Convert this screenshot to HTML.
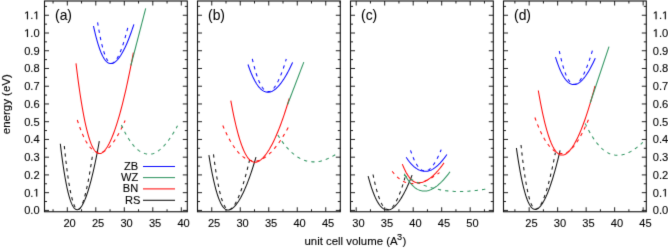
<!DOCTYPE html>
<html><head><meta charset="utf-8"><style>
html,body{margin:0;padding:0;background:#fff;width:668px;height:249px;overflow:hidden;}
svg{display:block;font-family:"Liberation Sans",sans-serif;will-change:transform;}
text{stroke:#000;stroke-width:0.1px;}
</style></head><body>
<svg width="668" height="249" viewBox="0 0 668 249" font-family="Liberation Sans, sans-serif" font-size="11.1" fill="#000">
<rect width="668" height="249" fill="#fff"/>
<filter id="bl" x="0" y="0" width="1" height="1" color-interpolation-filters="sRGB"><feConvolveMatrix order="3" kernelMatrix="0.0100 0.0800 0.0100 0.0800 0.6400 0.0800 0.0100 0.0800 0.0100" edgeMode="duplicate"/></filter><g filter="url(#bl)">
<rect width="668" height="249" fill="#fff"/>
<clipPath id="c0"><rect x="44.5" y="1.0" width="142.8" height="210.75"/></clipPath>
<g clip-path="url(#c0)" stroke-linecap="butt" stroke-linejoin="round">
<path d="M64.30,146.00 L64.65,149.43 L65.00,152.77 L65.35,155.99 L65.70,159.12 L66.05,162.14 L66.40,165.06 L66.75,167.88 L67.10,170.60 L67.45,173.21 L67.80,175.73 L68.15,178.15 L68.50,180.47 L68.85,182.70 L69.20,184.82 L69.55,186.86 L69.90,188.79 L70.25,190.63 L70.60,192.38 L70.95,194.04 L71.30,195.60 L71.65,197.07 L72.00,198.46 L72.35,199.75 L72.70,200.95 L73.05,202.07 L73.40,203.10 L73.75,204.05 L74.10,204.92 L74.45,205.70 L74.80,206.40 L75.15,207.02 L75.50,207.56 L75.85,208.03 L76.20,208.42 L76.55,208.75 L76.90,209.00 L77.25,209.19 L77.60,209.31 L77.95,209.38 L78.30,209.40 L78.66,209.33 L79.03,209.14 L79.39,208.86 L79.76,208.50 L80.12,208.05 L80.49,207.53 L80.86,206.93 L81.22,206.26 L81.58,205.52 L81.95,204.71 L82.31,203.83 L82.68,202.88 L83.05,201.88 L83.41,200.80 L83.78,199.66 L84.14,198.46 L84.50,197.20 L84.87,195.88 L85.23,194.50 L85.60,193.06 L85.97,191.56 L86.33,190.00 L86.70,188.39 L87.06,186.71 L87.42,184.98 L87.79,183.20 L88.16,181.35 L88.52,179.46 L88.89,177.51 L89.25,175.50 L89.62,173.44 L89.98,171.32 L90.34,169.15 L90.71,166.93 L91.08,164.66 L91.44,162.33 L91.81,159.95 L92.17,157.52 L92.54,155.03 L92.90,152.50" stroke="#111" stroke-width="1.05" fill="none" stroke-dasharray="3.3 4.1"/>
<path d="M60.30,143.80 L60.73,147.37 L61.16,150.83 L61.58,154.19 L62.01,157.43 L62.44,160.57 L62.86,163.61 L63.29,166.54 L63.72,169.36 L64.15,172.09 L64.58,174.70 L65.00,177.22 L65.43,179.63 L65.86,181.94 L66.28,184.16 L66.71,186.27 L67.14,188.28 L67.57,190.19 L68.00,192.01 L68.42,193.73 L68.85,195.36 L69.28,196.89 L69.70,198.32 L70.13,199.67 L70.56,200.92 L70.99,202.08 L71.42,203.16 L71.84,204.14 L72.27,205.04 L72.70,205.85 L73.12,206.58 L73.55,207.22 L73.98,207.79 L74.41,208.28 L74.84,208.69 L75.26,209.02 L75.69,209.28 L76.12,209.48 L76.55,209.61 L76.97,209.68 L77.40,209.70 L77.95,209.61 L78.50,209.39 L79.04,209.05 L79.59,208.61 L80.14,208.08 L80.69,207.45 L81.23,206.73 L81.78,205.92 L82.33,205.03 L82.88,204.05 L83.42,202.99 L83.97,201.86 L84.52,200.64 L85.06,199.35 L85.61,197.98 L86.16,196.54 L86.71,195.02 L87.25,193.43 L87.80,191.76 L88.35,190.03 L88.90,188.22 L89.44,186.35 L89.99,184.40 L90.54,182.39 L91.09,180.30 L91.64,178.15 L92.18,175.94 L92.73,173.65 L93.28,171.30 L93.83,168.89 L94.37,166.41 L94.92,163.86 L95.47,161.25 L96.02,158.57 L96.56,155.84 L97.11,153.03 L97.66,150.17 L98.20,147.24 L98.75,144.25 L99.30,141.20" stroke="#111" stroke-width="1.05" fill="none"/>
<path d="M77.30,120.00 L77.87,121.76 L78.44,123.47 L79.00,125.12 L79.57,126.72 L80.14,128.27 L80.70,129.77 L81.27,131.21 L81.84,132.61 L82.41,133.95 L82.97,135.24 L83.54,136.48 L84.11,137.67 L84.68,138.81 L85.25,139.90 L85.81,140.94 L86.38,141.94 L86.95,142.88 L87.52,143.78 L88.08,144.63 L88.65,145.43 L89.22,146.18 L89.78,146.89 L90.35,147.55 L90.92,148.17 L91.49,148.74 L92.06,149.27 L92.62,149.76 L93.19,150.20 L93.76,150.60 L94.33,150.96 L94.89,151.28 L95.46,151.56 L96.03,151.80 L96.59,152.00 L97.16,152.16 L97.73,152.29 L98.30,152.39 L98.86,152.46 L99.43,152.49 L100.00,152.50 L100.63,152.46 L101.25,152.35 L101.88,152.20 L102.51,151.99 L103.14,151.74 L103.77,151.45 L104.39,151.11 L105.02,150.73 L105.65,150.32 L106.28,149.86 L106.90,149.37 L107.53,148.84 L108.16,148.27 L108.78,147.66 L109.41,147.02 L110.04,146.35 L110.67,145.64 L111.30,144.90 L111.92,144.12 L112.55,143.31 L113.18,142.47 L113.80,141.59 L114.43,140.68 L115.06,139.74 L115.69,138.77 L116.31,137.76 L116.94,136.73 L117.57,135.66 L118.20,134.56 L118.82,133.43 L119.45,132.27 L120.08,131.09 L120.71,129.87 L121.33,128.62 L121.96,127.34 L122.59,126.03 L123.22,124.69 L123.84,123.32 L124.47,121.93 L125.10,120.50" stroke="#ff0a0a" stroke-width="1.05" fill="none" stroke-dasharray="3.3 4.1"/>
<path d="M76.00,63.40 L76.59,68.29 L77.19,73.03 L77.78,77.62 L78.38,82.06 L78.97,86.36 L79.57,90.51 L80.16,94.52 L80.76,98.39 L81.36,102.12 L81.95,105.70 L82.55,109.14 L83.14,112.45 L83.73,115.61 L84.33,118.64 L84.92,121.53 L85.52,124.28 L86.11,126.90 L86.71,129.39 L87.30,131.74 L87.90,133.97 L88.50,136.06 L89.09,138.03 L89.69,139.87 L90.28,141.58 L90.88,143.18 L91.47,144.64 L92.06,145.99 L92.66,147.22 L93.25,148.33 L93.85,149.33 L94.44,150.21 L95.04,150.98 L95.63,151.65 L96.23,152.21 L96.82,152.67 L97.42,153.03 L98.02,153.30 L98.61,153.48 L99.20,153.57 L99.80,153.60 L100.64,153.47 L101.48,153.14 L102.32,152.65 L103.16,152.00 L104.00,151.21 L104.84,150.28 L105.68,149.22 L106.52,148.03 L107.36,146.71 L108.20,145.27 L109.04,143.71 L109.88,142.04 L110.72,140.24 L111.56,138.34 L112.40,136.32 L113.24,134.19 L114.08,131.95 L114.92,129.61 L115.76,127.15 L116.60,124.60 L117.44,121.93 L118.28,119.17 L119.12,116.30 L119.96,113.33 L120.80,110.26 L121.64,107.09 L122.48,103.82 L123.32,100.45 L124.16,96.99 L125.00,93.42 L125.84,89.76 L126.68,86.01 L127.52,82.16 L128.36,78.22 L129.20,74.18 L130.04,70.05 L130.88,65.82 L131.72,61.51 L132.56,57.10 L133.40,52.60" stroke="#ff0a0a" stroke-width="1.05" fill="none"/>
<path d="M121.40,125.00 L122.12,126.58 L122.83,128.12 L123.55,129.60 L124.26,131.04 L124.98,132.43 L125.69,133.78 L126.41,135.08 L127.12,136.33 L127.84,137.53 L128.55,138.69 L129.27,139.81 L129.98,140.88 L130.69,141.90 L131.41,142.88 L132.12,143.82 L132.84,144.71 L133.56,145.56 L134.27,146.36 L134.99,147.12 L135.70,147.84 L136.41,148.52 L137.13,149.16 L137.84,149.76 L138.56,150.31 L139.28,150.83 L139.99,151.30 L140.71,151.74 L141.42,152.13 L142.13,152.49 L142.85,152.82 L143.56,153.10 L144.28,153.35 L145.00,153.57 L145.71,153.75 L146.43,153.90 L147.14,154.02 L147.85,154.10 L148.57,154.16 L149.28,154.19 L150.00,154.20 L150.69,154.16 L151.38,154.07 L152.06,153.93 L152.75,153.75 L153.44,153.53 L154.12,153.27 L154.81,152.97 L155.50,152.63 L156.19,152.26 L156.88,151.86 L157.56,151.42 L158.25,150.95 L158.94,150.44 L159.62,149.91 L160.31,149.34 L161.00,148.74 L161.69,148.11 L162.38,147.45 L163.06,146.76 L163.75,146.04 L164.44,145.30 L165.12,144.52 L165.81,143.71 L166.50,142.88 L167.19,142.01 L167.88,141.12 L168.56,140.20 L169.25,139.26 L169.94,138.28 L170.62,137.28 L171.31,136.25 L172.00,135.19 L172.69,134.11 L173.38,133.00 L174.06,131.87 L174.75,130.71 L175.44,129.52 L176.12,128.30 L176.81,127.07 L177.50,125.80" stroke="#2f9460" stroke-width="1.05" fill="none" stroke-dasharray="3.3 4.1"/>
<path d="M130.90,65.50 L145.70,8.40" stroke="#2f9460" stroke-width="1.05" fill="none"/>
<path d="M97.60,22.30 L97.95,24.52 L98.31,26.66 L98.66,28.75 L99.02,30.76 L99.38,32.71 L99.73,34.59 L100.08,36.41 L100.44,38.17 L100.80,39.86 L101.15,41.48 L101.50,43.04 L101.86,44.54 L102.21,45.97 L102.57,47.35 L102.92,48.66 L103.28,49.91 L103.63,51.09 L103.99,52.22 L104.34,53.29 L104.70,54.30 L105.05,55.25 L105.41,56.14 L105.77,56.97 L106.12,57.75 L106.47,58.47 L106.83,59.14 L107.19,59.75 L107.54,60.31 L107.89,60.81 L108.25,61.26 L108.60,61.66 L108.96,62.01 L109.31,62.32 L109.67,62.57 L110.02,62.78 L110.38,62.94 L110.73,63.06 L111.09,63.14 L111.44,63.19 L111.80,63.20 L112.20,63.15 L112.61,63.04 L113.01,62.86 L113.41,62.63 L113.81,62.35 L114.22,62.02 L114.62,61.64 L115.02,61.22 L115.42,60.75 L115.83,60.24 L116.23,59.69 L116.63,59.09 L117.03,58.45 L117.44,57.77 L117.84,57.06 L118.24,56.30 L118.64,55.51 L119.05,54.67 L119.45,53.80 L119.85,52.89 L120.25,51.94 L120.66,50.96 L121.06,49.94 L121.46,48.89 L121.86,47.79 L122.27,46.67 L122.67,45.51 L123.07,44.31 L123.47,43.08 L123.88,41.81 L124.28,40.51 L124.68,39.18 L125.08,37.81 L125.48,36.41 L125.89,34.97 L126.29,33.50 L126.69,32.00 L127.09,30.47 L127.50,28.90 L127.90,27.30" stroke="#0a0aff" stroke-width="1.05" fill="none" stroke-dasharray="3.3 4.1"/>
<path d="M93.50,26.00 L93.94,28.04 L94.39,30.01 L94.83,31.93 L95.27,33.78 L95.71,35.57 L96.16,37.30 L96.60,38.97 L97.04,40.59 L97.48,42.14 L97.92,43.63 L98.37,45.07 L98.81,46.44 L99.25,47.76 L99.69,49.03 L100.14,50.23 L100.58,51.38 L101.02,52.47 L101.47,53.51 L101.91,54.49 L102.35,55.42 L102.79,56.29 L103.23,57.11 L103.68,57.88 L104.12,58.59 L104.56,59.25 L105.00,59.87 L105.45,60.43 L105.89,60.94 L106.33,61.40 L106.78,61.82 L107.22,62.19 L107.66,62.51 L108.10,62.79 L108.55,63.02 L108.99,63.21 L109.43,63.36 L109.87,63.47 L110.31,63.55 L110.76,63.59 L111.20,63.60 L111.77,63.55 L112.34,63.42 L112.90,63.23 L113.47,62.98 L114.04,62.67 L114.61,62.31 L115.17,61.89 L115.74,61.43 L116.31,60.92 L116.88,60.36 L117.44,59.75 L118.01,59.10 L118.58,58.40 L119.15,57.66 L119.71,56.88 L120.28,56.05 L120.85,55.18 L121.42,54.26 L121.98,53.31 L122.55,52.31 L123.12,51.28 L123.69,50.20 L124.25,49.09 L124.82,47.93 L125.39,46.74 L125.96,45.50 L126.52,44.23 L127.09,42.92 L127.66,41.57 L128.22,40.18 L128.79,38.76 L129.36,37.30 L129.93,35.80 L130.50,34.27 L131.06,32.70 L131.63,31.09 L132.20,29.45 L132.77,27.77 L133.33,26.05 L133.90,24.30" stroke="#0a0aff" stroke-width="1.05" fill="none"/>
</g>
<path d="M53.05,211.75v-2.5M53.05,1.0v2.5M67.30,211.75v-4.5M67.30,1.0v4.5M81.55,211.75v-2.5M81.55,1.0v2.5M95.80,211.75v-4.5M95.80,1.0v4.5M110.05,211.75v-2.5M110.05,1.0v2.5M124.30,211.75v-4.5M124.30,1.0v4.5M138.55,211.75v-2.5M138.55,1.0v2.5M152.80,211.75v-4.5M152.80,1.0v4.5M167.05,211.75v-2.5M167.05,1.0v2.5M181.30,211.75v-4.5M181.30,1.0v4.5M44.5,210.40h4.5M187.3,210.40h-4.5M44.5,201.53h2.5M187.3,201.53h-2.5M44.5,192.66h4.5M187.3,192.66h-4.5M44.5,183.79h2.5M187.3,183.79h-2.5M44.5,174.92h4.5M187.3,174.92h-4.5M44.5,166.05h2.5M187.3,166.05h-2.5M44.5,157.18h4.5M187.3,157.18h-4.5M44.5,148.31h2.5M187.3,148.31h-2.5M44.5,139.44h4.5M187.3,139.44h-4.5M44.5,130.57h2.5M187.3,130.57h-2.5M44.5,121.70h4.5M187.3,121.70h-4.5M44.5,112.83h2.5M187.3,112.83h-2.5M44.5,103.96h4.5M187.3,103.96h-4.5M44.5,95.09h2.5M187.3,95.09h-2.5M44.5,86.22h4.5M187.3,86.22h-4.5M44.5,77.35h2.5M187.3,77.35h-2.5M44.5,68.48h4.5M187.3,68.48h-4.5M44.5,59.61h2.5M187.3,59.61h-2.5M44.5,50.74h4.5M187.3,50.74h-4.5M44.5,41.87h2.5M187.3,41.87h-2.5M44.5,33.00h4.5M187.3,33.00h-4.5M44.5,24.13h2.5M187.3,24.13h-2.5M44.5,15.26h4.5M187.3,15.26h-4.5M44.5,6.39h2.5M187.3,6.39h-2.5" stroke="#222" stroke-width="1" fill="none"/>
<rect x="44.5" y="1.0" width="142.8" height="210.75" fill="none" stroke="#111" stroke-width="1.1"/>
<text x="69.60" y="227" text-anchor="middle">20</text>
<text x="98.10" y="227" text-anchor="middle">25</text>
<text x="126.60" y="227" text-anchor="middle">30</text>
<text x="155.10" y="227" text-anchor="middle">35</text>
<text x="183.60" y="227" text-anchor="middle">40</text>
<text x="55.0" y="19.6" font-size="13.9" style="stroke-width:0.05px">(a)</text>
<clipPath id="c1"><rect x="197.5" y="1.0" width="142.8" height="210.75"/></clipPath>
<g clip-path="url(#c1)" stroke-linecap="butt" stroke-linejoin="round">
<path d="M213.50,154.40 L213.89,157.39 L214.28,160.28 L214.66,163.08 L215.05,165.80 L215.44,168.43 L215.82,170.96 L216.21,173.41 L216.60,175.78 L216.99,178.05 L217.38,180.24 L217.76,182.34 L218.15,184.36 L218.54,186.29 L218.93,188.14 L219.31,189.91 L219.70,191.59 L220.09,193.19 L220.47,194.71 L220.86,196.15 L221.25,197.51 L221.64,198.79 L222.03,199.99 L222.41,201.11 L222.80,202.16 L223.19,203.13 L223.57,204.03 L223.96,204.85 L224.35,205.60 L224.74,206.28 L225.12,206.89 L225.51,207.43 L225.90,207.90 L226.29,208.31 L226.68,208.65 L227.06,208.93 L227.45,209.15 L227.84,209.32 L228.22,209.42 L228.61,209.48 L229.00,209.50 L229.53,209.43 L230.05,209.27 L230.57,209.01 L231.10,208.68 L231.62,208.28 L232.15,207.81 L232.68,207.27 L233.20,206.66 L233.72,205.99 L234.25,205.25 L234.78,204.46 L235.30,203.60 L235.82,202.69 L236.35,201.72 L236.88,200.69 L237.40,199.60 L237.93,198.46 L238.45,197.27 L238.97,196.01 L239.50,194.71 L240.03,193.35 L240.55,191.94 L241.07,190.48 L241.60,188.97 L242.12,187.40 L242.65,185.78 L243.18,184.12 L243.70,182.40 L244.22,180.63 L244.75,178.82 L245.28,176.95 L245.80,175.04 L246.32,173.07 L246.85,171.06 L247.38,169.00 L247.90,166.90 L248.43,164.74 L248.95,162.54 L249.47,160.29 L250.00,158.00" stroke="#111" stroke-width="1.05" fill="none" stroke-dasharray="3.3 4.1"/>
<path d="M208.90,155.20 L209.39,158.17 L209.87,161.05 L210.36,163.84 L210.84,166.54 L211.33,169.15 L211.81,171.67 L212.30,174.11 L212.78,176.46 L213.27,178.72 L213.75,180.90 L214.24,182.99 L214.72,185.00 L215.21,186.92 L215.69,188.76 L216.18,190.51 L216.66,192.19 L217.15,193.78 L217.63,195.29 L218.12,196.72 L218.60,198.07 L219.09,199.35 L219.57,200.54 L220.06,201.66 L220.54,202.70 L221.03,203.67 L221.51,204.56 L222.00,205.38 L222.48,206.12 L222.97,206.80 L223.45,207.40 L223.94,207.94 L224.42,208.41 L224.91,208.82 L225.39,209.16 L225.88,209.44 L226.36,209.65 L226.85,209.82 L227.33,209.92 L227.81,209.98 L228.30,210.00 L228.99,209.93 L229.69,209.76 L230.38,209.50 L231.07,209.16 L231.76,208.75 L232.46,208.26 L233.15,207.70 L233.84,207.08 L234.53,206.39 L235.23,205.64 L235.92,204.82 L236.61,203.94 L237.30,203.00 L238.00,202.01 L238.69,200.95 L239.38,199.83 L240.07,198.66 L240.77,197.43 L241.46,196.15 L242.15,194.81 L242.84,193.41 L243.53,191.97 L244.23,190.46 L244.92,188.91 L245.61,187.30 L246.31,185.64 L247.00,183.93 L247.69,182.16 L248.38,180.35 L249.07,178.48 L249.77,176.57 L250.46,174.60 L251.15,172.58 L251.84,170.52 L252.54,168.40 L253.23,166.24 L253.92,164.03 L254.62,161.77 L255.31,159.46 L256.00,157.10" stroke="#111" stroke-width="1.05" fill="none"/>
<path d="M222.80,125.50 L223.62,127.42 L224.44,129.29 L225.25,131.10 L226.07,132.84 L226.89,134.54 L227.71,136.17 L228.52,137.75 L229.34,139.27 L230.16,140.74 L230.98,142.15 L231.79,143.50 L232.61,144.80 L233.43,146.05 L234.25,147.24 L235.06,148.38 L235.88,149.46 L236.70,150.49 L237.52,151.47 L238.33,152.40 L239.15,153.27 L239.97,154.10 L240.78,154.87 L241.60,155.60 L242.42,156.27 L243.24,156.90 L244.06,157.47 L244.87,158.01 L245.69,158.49 L246.51,158.93 L247.32,159.32 L248.14,159.67 L248.96,159.97 L249.78,160.23 L250.59,160.45 L251.41,160.63 L252.23,160.78 L253.05,160.88 L253.87,160.95 L254.68,160.99 L255.50,161.00 L256.32,160.96 L257.15,160.85 L257.98,160.68 L258.80,160.46 L259.62,160.19 L260.45,159.88 L261.27,159.52 L262.10,159.12 L262.93,158.68 L263.75,158.20 L264.57,157.67 L265.40,157.11 L266.23,156.50 L267.05,155.86 L267.88,155.18 L268.70,154.47 L269.52,153.71 L270.35,152.92 L271.18,152.10 L272.00,151.24 L272.82,150.34 L273.65,149.41 L274.48,148.44 L275.30,147.44 L276.12,146.41 L276.95,145.34 L277.77,144.24 L278.60,143.11 L279.43,141.94 L280.25,140.74 L281.07,139.51 L281.90,138.25 L282.73,136.95 L283.55,135.62 L284.38,134.26 L285.20,132.87 L286.02,131.45 L286.85,130.00 L287.68,128.51 L288.50,127.00" stroke="#ff0a0a" stroke-width="1.05" fill="none" stroke-dasharray="3.3 4.1"/>
<path d="M230.80,100.60 L231.41,103.94 L232.03,107.17 L232.64,110.31 L233.25,113.34 L233.86,116.28 L234.48,119.12 L235.09,121.86 L235.70,124.50 L236.31,127.04 L236.93,129.49 L237.54,131.84 L238.15,134.09 L238.76,136.26 L239.38,138.32 L239.99,140.30 L240.60,142.18 L241.21,143.97 L241.83,145.67 L242.44,147.27 L243.05,148.79 L243.66,150.22 L244.28,151.57 L244.89,152.82 L245.50,153.99 L246.11,155.08 L246.73,156.08 L247.34,157.00 L247.95,157.84 L248.56,158.60 L249.18,159.28 L249.79,159.89 L250.40,160.41 L251.01,160.87 L251.62,161.25 L252.24,161.56 L252.85,161.81 L253.46,161.99 L254.08,162.12 L254.69,162.18 L255.30,162.20 L256.15,162.12 L257.00,161.91 L257.85,161.60 L258.70,161.19 L259.55,160.69 L260.40,160.10 L261.25,159.43 L262.10,158.68 L262.95,157.85 L263.80,156.94 L264.65,155.95 L265.50,154.89 L266.35,153.76 L267.20,152.56 L268.05,151.28 L268.90,149.94 L269.75,148.53 L270.60,147.04 L271.45,145.49 L272.30,143.88 L273.15,142.20 L274.00,140.45 L274.85,138.64 L275.70,136.76 L276.55,134.82 L277.40,132.82 L278.25,130.75 L279.10,128.63 L279.95,126.44 L280.80,124.19 L281.65,121.88 L282.50,119.50 L283.35,117.07 L284.20,114.58 L285.05,112.03 L285.90,109.42 L286.75,106.75 L287.60,104.03 L288.45,101.24 L289.30,98.40" stroke="#ff0a0a" stroke-width="1.05" fill="none"/>
<path d="M277.80,135.00 L278.72,136.46 L279.64,137.87 L280.56,139.24 L281.48,140.57 L282.40,141.85 L283.32,143.09 L284.24,144.28 L285.16,145.44 L286.08,146.55 L287.00,147.61 L287.92,148.64 L288.84,149.63 L289.76,150.57 L290.68,151.47 L291.60,152.33 L292.52,153.16 L293.44,153.94 L294.36,154.68 L295.28,155.38 L296.20,156.05 L297.12,156.67 L298.04,157.26 L298.96,157.81 L299.88,158.32 L300.80,158.79 L301.72,159.23 L302.64,159.63 L303.56,160.00 L304.48,160.33 L305.40,160.63 L306.32,160.89 L307.24,161.12 L308.16,161.32 L309.08,161.49 L310.00,161.62 L310.92,161.73 L311.84,161.81 L312.76,161.86 L313.68,161.89 L314.60,161.90 L315.19,161.89 L315.77,161.86 L316.36,161.82 L316.94,161.76 L317.53,161.69 L318.11,161.60 L318.69,161.51 L319.28,161.40 L319.87,161.29 L320.45,161.16 L321.04,161.02 L321.62,160.87 L322.21,160.71 L322.79,160.54 L323.38,160.36 L323.96,160.17 L324.55,159.97 L325.13,159.76 L325.72,159.54 L326.30,159.32 L326.88,159.08 L327.47,158.83 L328.06,158.58 L328.64,158.31 L329.23,158.04 L329.81,157.76 L330.39,157.46 L330.98,157.16 L331.56,156.86 L332.15,156.54 L332.74,156.21 L333.32,155.88 L333.91,155.53 L334.49,155.18 L335.07,154.82 L335.66,154.45 L336.25,154.08 L336.83,153.69 L337.42,153.30 L338.00,152.90" stroke="#2f9460" stroke-width="1.05" fill="none" stroke-dasharray="3.3 4.1"/>
<path d="M287.60,104.50 L303.80,62.10" stroke="#2f9460" stroke-width="1.05" fill="none"/>
<path d="M252.30,58.90 L252.71,60.67 L253.12,62.39 L253.54,64.05 L253.95,65.67 L254.36,67.22 L254.78,68.73 L255.19,70.18 L255.60,71.59 L256.01,72.94 L256.43,74.23 L256.84,75.48 L257.25,76.68 L257.66,77.83 L258.07,78.92 L258.49,79.97 L258.90,80.97 L259.31,81.92 L259.73,82.82 L260.14,83.68 L260.55,84.48 L260.96,85.24 L261.38,85.96 L261.79,86.62 L262.20,87.24 L262.61,87.82 L263.03,88.35 L263.44,88.84 L263.85,89.29 L264.26,89.69 L264.68,90.05 L265.09,90.37 L265.50,90.65 L265.91,90.89 L266.32,91.10 L266.74,91.26 L267.15,91.39 L267.56,91.49 L267.98,91.56 L268.39,91.59 L268.80,91.60 L269.24,91.56 L269.68,91.45 L270.11,91.29 L270.55,91.08 L270.99,90.83 L271.43,90.53 L271.86,90.19 L272.30,89.80 L272.74,89.38 L273.18,88.91 L273.61,88.41 L274.05,87.87 L274.49,87.29 L274.93,86.67 L275.36,86.02 L275.80,85.33 L276.24,84.61 L276.68,83.86 L277.11,83.06 L277.55,82.24 L277.99,81.38 L278.43,80.49 L278.86,79.56 L279.30,78.60 L279.74,77.61 L280.18,76.59 L280.61,75.53 L281.05,74.44 L281.49,73.33 L281.93,72.18 L282.36,71.00 L282.80,69.78 L283.24,68.54 L283.68,67.27 L284.11,65.97 L284.55,64.63 L284.99,63.27 L285.43,61.88 L285.86,60.45 L286.30,59.00" stroke="#0a0aff" stroke-width="1.05" fill="none" stroke-dasharray="3.3 4.1"/>
<path d="M248.00,64.50 L248.51,66.00 L249.03,67.46 L249.54,68.87 L250.05,70.23 L250.56,71.55 L251.07,72.83 L251.59,74.06 L252.10,75.25 L252.61,76.39 L253.12,77.49 L253.64,78.55 L254.15,79.56 L254.66,80.53 L255.18,81.46 L255.69,82.35 L256.20,83.20 L256.71,84.00 L257.23,84.77 L257.74,85.49 L258.25,86.17 L258.76,86.81 L259.27,87.42 L259.79,87.98 L260.30,88.51 L260.81,89.00 L261.32,89.45 L261.84,89.86 L262.35,90.24 L262.86,90.58 L263.38,90.89 L263.89,91.16 L264.40,91.40 L264.91,91.60 L265.43,91.77 L265.94,91.91 L266.45,92.03 L266.96,92.11 L267.48,92.16 L267.99,92.19 L268.50,92.20 L269.10,92.16 L269.70,92.06 L270.31,91.92 L270.91,91.73 L271.51,91.49 L272.12,91.22 L272.72,90.91 L273.32,90.56 L273.92,90.17 L274.52,89.74 L275.13,89.28 L275.73,88.79 L276.33,88.26 L276.94,87.70 L277.54,87.10 L278.14,86.47 L278.74,85.81 L279.35,85.12 L279.95,84.40 L280.55,83.64 L281.15,82.86 L281.75,82.04 L282.36,81.19 L282.96,80.32 L283.56,79.41 L284.17,78.48 L284.77,77.51 L285.37,76.52 L285.97,75.50 L286.58,74.44 L287.18,73.37 L287.78,72.26 L288.38,71.12 L288.99,69.96 L289.59,68.77 L290.19,67.55 L290.79,66.30 L291.40,65.03 L292.00,63.73 L292.60,62.40" stroke="#0a0aff" stroke-width="1.05" fill="none"/>
</g>
<path d="M197.50,211.75v-2.5M197.50,1.0v2.5M211.75,211.75v-4.5M211.75,1.0v4.5M226.00,211.75v-2.5M226.00,1.0v2.5M240.25,211.75v-4.5M240.25,1.0v4.5M254.50,211.75v-2.5M254.50,1.0v2.5M268.75,211.75v-4.5M268.75,1.0v4.5M283.00,211.75v-2.5M283.00,1.0v2.5M297.25,211.75v-4.5M297.25,1.0v4.5M311.50,211.75v-2.5M311.50,1.0v2.5M325.75,211.75v-4.5M325.75,1.0v4.5M340.00,211.75v-2.5M340.00,1.0v2.5M197.5,210.40h4.5M340.3,210.40h-4.5M197.5,201.53h2.5M340.3,201.53h-2.5M197.5,192.66h4.5M340.3,192.66h-4.5M197.5,183.79h2.5M340.3,183.79h-2.5M197.5,174.92h4.5M340.3,174.92h-4.5M197.5,166.05h2.5M340.3,166.05h-2.5M197.5,157.18h4.5M340.3,157.18h-4.5M197.5,148.31h2.5M340.3,148.31h-2.5M197.5,139.44h4.5M340.3,139.44h-4.5M197.5,130.57h2.5M340.3,130.57h-2.5M197.5,121.70h4.5M340.3,121.70h-4.5M197.5,112.83h2.5M340.3,112.83h-2.5M197.5,103.96h4.5M340.3,103.96h-4.5M197.5,95.09h2.5M340.3,95.09h-2.5M197.5,86.22h4.5M340.3,86.22h-4.5M197.5,77.35h2.5M340.3,77.35h-2.5M197.5,68.48h4.5M340.3,68.48h-4.5M197.5,59.61h2.5M340.3,59.61h-2.5M197.5,50.74h4.5M340.3,50.74h-4.5M197.5,41.87h2.5M340.3,41.87h-2.5M197.5,33.00h4.5M340.3,33.00h-4.5M197.5,24.13h2.5M340.3,24.13h-2.5M197.5,15.26h4.5M340.3,15.26h-4.5M197.5,6.39h2.5M340.3,6.39h-2.5" stroke="#222" stroke-width="1" fill="none"/>
<rect x="197.5" y="1.0" width="142.8" height="210.75" fill="none" stroke="#111" stroke-width="1.1"/>
<text x="214.05" y="227" text-anchor="middle">25</text>
<text x="242.55" y="227" text-anchor="middle">30</text>
<text x="271.05" y="227" text-anchor="middle">35</text>
<text x="299.55" y="227" text-anchor="middle">40</text>
<text x="328.05" y="227" text-anchor="middle">45</text>
<text x="208.0" y="19.6" font-size="13.9" style="stroke-width:0.05px">(b)</text>
<clipPath id="c2"><rect x="350.5" y="1.0" width="142.8" height="210.75"/></clipPath>
<g clip-path="url(#c2)" stroke-linecap="butt" stroke-linejoin="round">
<path d="M373.00,174.50 L373.39,176.40 L373.77,178.23 L374.16,180.02 L374.55,181.74 L374.94,183.41 L375.32,185.02 L375.71,186.58 L376.10,188.08 L376.49,189.52 L376.88,190.91 L377.26,192.25 L377.65,193.53 L378.04,194.76 L378.43,195.93 L378.81,197.05 L379.20,198.12 L379.59,199.14 L379.98,200.11 L380.36,201.02 L380.75,201.88 L381.14,202.70 L381.52,203.46 L381.91,204.17 L382.30,204.84 L382.69,205.45 L383.07,206.02 L383.46,206.55 L383.85,207.02 L384.24,207.46 L384.62,207.84 L385.01,208.19 L385.40,208.49 L385.79,208.74 L386.18,208.96 L386.56,209.14 L386.95,209.28 L387.34,209.38 L387.73,209.45 L388.11,209.49 L388.50,209.50 L388.92,209.46 L389.34,209.35 L389.76,209.19 L390.18,208.98 L390.60,208.72 L391.02,208.41 L391.44,208.07 L391.86,207.68 L392.28,207.25 L392.70,206.78 L393.12,206.27 L393.54,205.72 L393.96,205.14 L394.38,204.51 L394.80,203.85 L395.22,203.16 L395.64,202.43 L396.06,201.66 L396.48,200.86 L396.90,200.02 L397.32,199.15 L397.74,198.25 L398.16,197.31 L398.58,196.34 L399.00,195.34 L399.42,194.30 L399.84,193.23 L400.26,192.13 L400.68,191.00 L401.10,189.84 L401.52,188.64 L401.94,187.42 L402.36,186.16 L402.78,184.87 L403.20,183.55 L403.62,182.20 L404.04,180.82 L404.46,179.41 L404.88,177.97 L405.30,176.50" stroke="#111" stroke-width="1.05" fill="none" stroke-dasharray="3.3 4.1"/>
<path d="M368.10,176.10 L368.60,177.94 L369.09,179.72 L369.59,181.44 L370.08,183.11 L370.58,184.73 L371.07,186.29 L371.56,187.80 L372.06,189.25 L372.56,190.65 L373.05,192.00 L373.55,193.29 L374.04,194.53 L374.54,195.72 L375.03,196.86 L375.52,197.95 L376.02,198.98 L376.51,199.97 L377.01,200.90 L377.50,201.79 L378.00,202.62 L378.50,203.41 L378.99,204.15 L379.49,204.84 L379.98,205.48 L380.48,206.08 L380.97,206.63 L381.46,207.14 L381.96,207.60 L382.45,208.02 L382.95,208.39 L383.44,208.73 L383.94,209.02 L384.44,209.27 L384.93,209.48 L385.42,209.65 L385.92,209.79 L386.41,209.89 L386.91,209.95 L387.40,209.99 L387.90,210.00 L388.50,209.95 L389.11,209.84 L389.71,209.67 L390.32,209.45 L390.92,209.17 L391.53,208.85 L392.13,208.49 L392.74,208.07 L393.34,207.62 L393.95,207.12 L394.56,206.58 L395.16,206.00 L395.76,205.38 L396.37,204.73 L396.98,204.03 L397.58,203.29 L398.19,202.52 L398.79,201.71 L399.39,200.86 L400.00,199.98 L400.61,199.06 L401.21,198.10 L401.81,197.11 L402.42,196.08 L403.02,195.02 L403.63,193.93 L404.24,192.80 L404.84,191.63 L405.44,190.44 L406.05,189.21 L406.66,187.94 L407.26,186.64 L407.87,185.31 L408.47,183.95 L409.08,182.56 L409.68,181.13 L410.29,179.67 L410.89,178.18 L411.50,176.65 L412.10,175.10" stroke="#111" stroke-width="1.05" fill="none"/>
<path d="M392.20,171.30 L392.72,171.97 L393.24,172.61 L393.76,173.24 L394.28,173.84 L394.80,174.43 L395.32,175.00 L395.84,175.54 L396.36,176.07 L396.88,176.58 L397.40,177.07 L397.92,177.54 L398.44,177.99 L398.96,178.42 L399.48,178.83 L400.00,179.23 L400.52,179.60 L401.04,179.96 L401.56,180.30 L402.08,180.62 L402.60,180.92 L403.12,181.21 L403.64,181.48 L404.16,181.73 L404.68,181.96 L405.20,182.18 L405.72,182.38 L406.24,182.56 L406.76,182.73 L407.28,182.88 L407.80,183.02 L408.32,183.14 L408.84,183.24 L409.36,183.33 L409.88,183.41 L410.40,183.47 L410.92,183.52 L411.44,183.56 L411.96,183.58 L412.48,183.60 L413.00,183.60 L413.66,183.59 L414.32,183.55 L414.99,183.50 L415.65,183.43 L416.31,183.34 L416.98,183.24 L417.64,183.12 L418.30,182.99 L418.96,182.85 L419.62,182.69 L420.29,182.52 L420.95,182.34 L421.61,182.15 L422.27,181.94 L422.94,181.72 L423.60,181.49 L424.26,181.24 L424.93,180.99 L425.59,180.72 L426.25,180.44 L426.91,180.15 L427.57,179.85 L428.24,179.54 L428.90,179.21 L429.56,178.88 L430.23,178.53 L430.89,178.18 L431.55,177.81 L432.21,177.43 L432.88,177.05 L433.54,176.65 L434.20,176.24 L434.86,175.82 L435.52,175.39 L436.19,174.95 L436.85,174.50 L437.51,174.04 L438.18,173.57 L438.84,173.09 L439.50,172.60" stroke="#ff0a0a" stroke-width="1.05" fill="none" stroke-dasharray="3.3 4.1"/>
<path d="M402.30,164.10 L402.71,165.12 L403.12,166.11 L403.53,167.06 L403.94,167.99 L404.35,168.89 L404.76,169.75 L405.17,170.59 L405.58,171.39 L405.99,172.17 L406.40,172.92 L406.81,173.63 L407.22,174.32 L407.63,174.98 L408.04,175.61 L408.45,176.22 L408.86,176.79 L409.27,177.34 L409.68,177.85 L410.09,178.34 L410.50,178.81 L410.91,179.25 L411.32,179.65 L411.73,180.04 L412.14,180.40 L412.55,180.73 L412.96,181.03 L413.37,181.31 L413.78,181.57 L414.19,181.80 L414.60,182.01 L415.01,182.19 L415.42,182.35 L415.83,182.49 L416.24,182.61 L416.65,182.71 L417.06,182.78 L417.47,182.84 L417.88,182.87 L418.29,182.89 L418.70,182.90 L419.33,182.87 L419.96,182.81 L420.60,182.71 L421.23,182.58 L421.86,182.43 L422.50,182.24 L423.13,182.03 L423.76,181.80 L424.39,181.54 L425.02,181.25 L425.66,180.94 L426.29,180.61 L426.92,180.26 L427.56,179.88 L428.19,179.48 L428.82,179.06 L429.45,178.61 L430.08,178.15 L430.72,177.66 L431.35,177.16 L431.98,176.63 L432.62,176.08 L433.25,175.51 L433.88,174.93 L434.51,174.32 L435.14,173.69 L435.78,173.04 L436.41,172.38 L437.04,171.69 L437.68,170.98 L438.31,170.26 L438.94,169.52 L439.57,168.75 L440.20,167.97 L440.84,167.17 L441.47,166.36 L442.10,165.52 L442.74,164.66 L443.37,163.79 L444.00,162.90" stroke="#ff0a0a" stroke-width="1.05" fill="none"/>
<path d="M404.00,175.00 L405.40,175.89 L406.80,176.76 L408.20,177.60 L409.60,178.41 L411.00,179.20 L412.40,179.96 L413.80,180.69 L415.20,181.40 L416.60,182.08 L418.00,182.74 L419.40,183.37 L420.80,183.97 L422.20,184.55 L423.60,185.10 L425.00,185.63 L426.40,186.14 L427.80,186.62 L429.20,187.07 L430.60,187.50 L432.00,187.91 L433.40,188.29 L434.80,188.65 L436.20,188.99 L437.60,189.30 L439.00,189.59 L440.40,189.86 L441.80,190.11 L443.20,190.33 L444.60,190.54 L446.00,190.72 L447.40,190.88 L448.80,191.02 L450.20,191.14 L451.60,191.25 L453.00,191.33 L454.40,191.40 L455.80,191.44 L457.20,191.48 L458.60,191.50 L460.00,191.50 L460.66,191.50 L461.32,191.49 L461.99,191.48 L462.65,191.46 L463.31,191.44 L463.98,191.42 L464.64,191.39 L465.30,191.36 L465.96,191.33 L466.62,191.29 L467.29,191.26 L467.95,191.21 L468.61,191.17 L469.27,191.12 L469.94,191.07 L470.60,191.02 L471.26,190.96 L471.93,190.91 L472.59,190.85 L473.25,190.78 L473.91,190.72 L474.57,190.65 L475.24,190.58 L475.90,190.50 L476.56,190.43 L477.23,190.35 L477.89,190.27 L478.55,190.18 L479.21,190.10 L479.88,190.01 L480.54,189.92 L481.20,189.83 L481.86,189.73 L482.52,189.63 L483.19,189.53 L483.85,189.43 L484.51,189.33 L485.18,189.22 L485.84,189.11 L486.50,189.00" stroke="#2f9460" stroke-width="1.05" fill="none" stroke-dasharray="3.3 4.1"/>
<path d="M404.30,173.70 L404.81,174.64 L405.32,175.56 L405.84,176.44 L406.35,177.30 L406.86,178.13 L407.38,178.93 L407.89,179.70 L408.40,180.45 L408.91,181.17 L409.43,181.86 L409.94,182.52 L410.45,183.16 L410.96,183.77 L411.48,184.36 L411.99,184.91 L412.50,185.44 L413.01,185.95 L413.53,186.43 L414.04,186.88 L414.55,187.31 L415.06,187.72 L415.57,188.10 L416.09,188.45 L416.60,188.78 L417.11,189.09 L417.62,189.37 L418.14,189.63 L418.65,189.87 L419.16,190.08 L419.68,190.28 L420.19,190.45 L420.70,190.60 L421.21,190.72 L421.73,190.83 L422.24,190.92 L422.75,190.99 L423.26,191.04 L423.78,191.08 L424.29,191.09 L424.80,191.10 L425.43,191.07 L426.06,191.01 L426.69,190.92 L427.32,190.79 L427.95,190.64 L428.58,190.47 L429.21,190.26 L429.84,190.03 L430.47,189.78 L431.10,189.51 L431.73,189.21 L432.36,188.89 L432.99,188.55 L433.62,188.18 L434.25,187.80 L434.88,187.39 L435.51,186.96 L436.14,186.51 L436.77,186.05 L437.40,185.56 L438.03,185.05 L438.66,184.52 L439.29,183.97 L439.92,183.40 L440.55,182.82 L441.18,182.21 L441.81,181.59 L442.44,180.94 L443.07,180.28 L443.70,179.60 L444.33,178.90 L444.96,178.18 L445.59,177.45 L446.22,176.70 L446.85,175.92 L447.48,175.13 L448.11,174.33 L448.74,173.50 L449.37,172.66 L450.00,171.80" stroke="#2f9460" stroke-width="1.05" fill="none"/>
<path d="M410.50,150.30 L410.88,151.42 L411.25,152.51 L411.63,153.56 L412.01,154.58 L412.39,155.57 L412.76,156.52 L413.14,157.44 L413.52,158.33 L413.90,159.18 L414.27,160.01 L414.65,160.80 L415.03,161.56 L415.41,162.28 L415.79,162.98 L416.16,163.64 L416.54,164.27 L416.92,164.87 L417.30,165.44 L417.67,165.98 L418.05,166.49 L418.43,166.98 L418.81,167.43 L419.18,167.85 L419.56,168.24 L419.94,168.61 L420.31,168.94 L420.69,169.25 L421.07,169.54 L421.45,169.79 L421.83,170.02 L422.20,170.22 L422.58,170.40 L422.96,170.55 L423.34,170.68 L423.71,170.79 L424.09,170.87 L424.47,170.93 L424.85,170.97 L425.22,170.99 L425.60,171.00 L425.99,170.97 L426.38,170.90 L426.77,170.80 L427.16,170.66 L427.55,170.49 L427.94,170.30 L428.33,170.07 L428.72,169.82 L429.11,169.54 L429.50,169.24 L429.89,168.90 L430.28,168.55 L430.67,168.17 L431.06,167.77 L431.45,167.34 L431.84,166.89 L432.23,166.41 L432.62,165.92 L433.01,165.40 L433.40,164.85 L433.79,164.29 L434.18,163.70 L434.57,163.10 L434.96,162.47 L435.35,161.82 L435.74,161.14 L436.13,160.45 L436.52,159.74 L436.91,159.00 L437.30,158.25 L437.69,157.47 L438.08,156.68 L438.47,155.86 L438.86,155.03 L439.25,154.17 L439.64,153.30 L440.03,152.40 L440.42,151.49 L440.81,150.55 L441.20,149.60" stroke="#0a0aff" stroke-width="1.05" fill="none" stroke-dasharray="3.3 4.1"/>
<path d="M406.20,157.30 L406.69,158.06 L407.19,158.79 L407.69,159.51 L408.18,160.20 L408.68,160.86 L409.17,161.51 L409.66,162.13 L410.16,162.73 L410.65,163.31 L411.15,163.87 L411.64,164.40 L412.14,164.91 L412.63,165.40 L413.13,165.87 L413.62,166.32 L414.12,166.75 L414.62,167.16 L415.11,167.54 L415.61,167.91 L416.10,168.25 L416.59,168.58 L417.09,168.88 L417.58,169.17 L418.08,169.44 L418.57,169.68 L419.07,169.91 L419.56,170.12 L420.06,170.31 L420.56,170.48 L421.05,170.64 L421.55,170.77 L422.04,170.89 L422.53,171.00 L423.03,171.08 L423.52,171.16 L424.02,171.21 L424.51,171.25 L425.01,171.28 L425.50,171.30 L426.00,171.30 L426.52,171.28 L427.05,171.22 L427.57,171.14 L428.09,171.03 L428.61,170.90 L429.13,170.75 L429.66,170.57 L430.18,170.37 L430.70,170.15 L431.23,169.91 L431.75,169.66 L432.27,169.38 L432.79,169.08 L433.31,168.76 L433.84,168.43 L434.36,168.07 L434.88,167.70 L435.40,167.31 L435.93,166.90 L436.45,166.48 L436.97,166.03 L437.50,165.57 L438.02,165.10 L438.54,164.60 L439.06,164.09 L439.58,163.56 L440.11,163.02 L440.63,162.46 L441.15,161.88 L441.67,161.29 L442.20,160.68 L442.72,160.06 L443.24,159.42 L443.76,158.76 L444.29,158.09 L444.81,157.40 L445.33,156.70 L445.85,155.98 L446.38,155.25 L446.90,154.50" stroke="#0a0aff" stroke-width="1.05" fill="none"/>
</g>
<path d="M356.20,211.75v-4.5M356.20,1.0v4.5M370.45,211.75v-2.5M370.45,1.0v2.5M384.70,211.75v-4.5M384.70,1.0v4.5M398.95,211.75v-2.5M398.95,1.0v2.5M413.20,211.75v-4.5M413.20,1.0v4.5M427.45,211.75v-2.5M427.45,1.0v2.5M441.70,211.75v-4.5M441.70,1.0v4.5M455.95,211.75v-2.5M455.95,1.0v2.5M470.20,211.75v-4.5M470.20,1.0v4.5M484.45,211.75v-2.5M484.45,1.0v2.5M350.5,210.40h4.5M493.3,210.40h-4.5M350.5,201.53h2.5M493.3,201.53h-2.5M350.5,192.66h4.5M493.3,192.66h-4.5M350.5,183.79h2.5M493.3,183.79h-2.5M350.5,174.92h4.5M493.3,174.92h-4.5M350.5,166.05h2.5M493.3,166.05h-2.5M350.5,157.18h4.5M493.3,157.18h-4.5M350.5,148.31h2.5M493.3,148.31h-2.5M350.5,139.44h4.5M493.3,139.44h-4.5M350.5,130.57h2.5M493.3,130.57h-2.5M350.5,121.70h4.5M493.3,121.70h-4.5M350.5,112.83h2.5M493.3,112.83h-2.5M350.5,103.96h4.5M493.3,103.96h-4.5M350.5,95.09h2.5M493.3,95.09h-2.5M350.5,86.22h4.5M493.3,86.22h-4.5M350.5,77.35h2.5M493.3,77.35h-2.5M350.5,68.48h4.5M493.3,68.48h-4.5M350.5,59.61h2.5M493.3,59.61h-2.5M350.5,50.74h4.5M493.3,50.74h-4.5M350.5,41.87h2.5M493.3,41.87h-2.5M350.5,33.00h4.5M493.3,33.00h-4.5M350.5,24.13h2.5M493.3,24.13h-2.5M350.5,15.26h4.5M493.3,15.26h-4.5M350.5,6.39h2.5M493.3,6.39h-2.5" stroke="#222" stroke-width="1" fill="none"/>
<rect x="350.5" y="1.0" width="142.8" height="210.75" fill="none" stroke="#111" stroke-width="1.1"/>
<text x="358.50" y="227" text-anchor="middle">30</text>
<text x="387.00" y="227" text-anchor="middle">35</text>
<text x="415.50" y="227" text-anchor="middle">40</text>
<text x="444.00" y="227" text-anchor="middle">45</text>
<text x="472.50" y="227" text-anchor="middle">50</text>
<text x="361.0" y="19.6" font-size="13.9" style="stroke-width:0.05px">(c)</text>
<clipPath id="c3"><rect x="503.5" y="1.0" width="142.8" height="210.75"/></clipPath>
<g clip-path="url(#c3)" stroke-linecap="butt" stroke-linejoin="round">
<path d="M521.00,145.00 L521.38,148.47 L521.75,151.84 L522.12,155.10 L522.50,158.26 L522.88,161.32 L523.25,164.27 L523.62,167.12 L524.00,169.87 L524.38,172.51 L524.75,175.06 L525.12,177.51 L525.50,179.85 L525.88,182.10 L526.25,184.25 L526.62,186.31 L527.00,188.27 L527.38,190.13 L527.75,191.89 L528.12,193.57 L528.50,195.15 L528.88,196.64 L529.25,198.04 L529.62,199.34 L530.00,200.56 L530.38,201.69 L530.75,202.73 L531.12,203.69 L531.50,204.57 L531.88,205.36 L532.25,206.06 L532.62,206.69 L533.00,207.24 L533.38,207.71 L533.75,208.11 L534.12,208.44 L534.50,208.70 L534.88,208.89 L535.25,209.01 L535.62,209.08 L536.00,209.10 L536.49,209.03 L536.97,208.84 L537.46,208.57 L537.94,208.20 L538.42,207.76 L538.91,207.24 L539.39,206.65 L539.88,205.98 L540.37,205.25 L540.85,204.44 L541.34,203.57 L541.82,202.63 L542.30,201.63 L542.79,200.56 L543.27,199.43 L543.76,198.24 L544.25,196.99 L544.73,195.68 L545.22,194.31 L545.70,192.87 L546.18,191.39 L546.67,189.84 L547.15,188.23 L547.64,186.57 L548.12,184.85 L548.61,183.08 L549.10,181.25 L549.58,179.37 L550.06,177.43 L550.55,175.44 L551.03,173.39 L551.52,171.29 L552.00,169.14 L552.49,166.93 L552.98,164.67 L553.46,162.36 L553.94,160.00 L554.43,157.58 L554.91,155.12 L555.40,152.60" stroke="#111" stroke-width="1.05" fill="none" stroke-dasharray="3.3 4.1"/>
<path d="M516.40,148.00 L516.88,151.33 L517.36,154.55 L517.83,157.68 L518.31,160.70 L518.79,163.63 L519.26,166.46 L519.74,169.19 L520.22,171.82 L520.70,174.35 L521.17,176.79 L521.65,179.14 L522.13,181.39 L522.61,183.54 L523.09,185.60 L523.56,187.57 L524.04,189.44 L524.52,191.23 L525.00,192.92 L525.47,194.52 L525.95,196.04 L526.43,197.46 L526.90,198.80 L527.38,200.05 L527.86,201.22 L528.34,202.30 L528.81,203.30 L529.29,204.22 L529.77,205.06 L530.25,205.81 L530.73,206.49 L531.20,207.09 L531.68,207.62 L532.16,208.07 L532.63,208.45 L533.11,208.77 L533.59,209.01 L534.07,209.19 L534.54,209.32 L535.02,209.38 L535.50,209.40 L536.12,209.32 L536.73,209.13 L537.35,208.84 L537.96,208.46 L538.58,208.00 L539.19,207.46 L539.81,206.84 L540.42,206.14 L541.03,205.37 L541.65,204.53 L542.26,203.61 L542.88,202.63 L543.50,201.58 L544.11,200.47 L544.73,199.29 L545.34,198.04 L545.96,196.73 L546.57,195.36 L547.19,193.92 L547.80,192.43 L548.41,190.87 L549.03,189.25 L549.64,187.57 L550.26,185.84 L550.88,184.04 L551.49,182.18 L552.11,180.27 L552.72,178.30 L553.34,176.27 L553.95,174.19 L554.57,172.05 L555.18,169.85 L555.80,167.60 L556.41,165.29 L557.02,162.93 L557.64,160.51 L558.25,158.04 L558.87,155.51 L559.49,152.93 L560.10,150.30" stroke="#111" stroke-width="1.05" fill="none"/>
<path d="M534.90,117.50 L535.60,119.45 L536.30,121.34 L537.01,123.17 L537.71,124.95 L538.41,126.66 L539.12,128.32 L539.82,129.92 L540.52,131.47 L541.22,132.95 L541.92,134.38 L542.63,135.76 L543.33,137.07 L544.03,138.34 L544.74,139.55 L545.44,140.70 L546.14,141.80 L546.84,142.84 L547.54,143.84 L548.25,144.78 L548.95,145.67 L549.65,146.50 L550.36,147.29 L551.06,148.02 L551.76,148.70 L552.46,149.34 L553.16,149.93 L553.87,150.46 L554.57,150.95 L555.27,151.40 L555.98,151.79 L556.68,152.15 L557.38,152.46 L558.08,152.72 L558.78,152.95 L559.49,153.13 L560.19,153.27 L560.89,153.38 L561.60,153.45 L562.30,153.49 L563.00,153.50 L563.67,153.45 L564.35,153.33 L565.02,153.15 L565.69,152.91 L566.36,152.61 L567.03,152.27 L567.71,151.88 L568.38,151.44 L569.05,150.95 L569.73,150.42 L570.40,149.84 L571.07,149.22 L571.74,148.55 L572.41,147.85 L573.09,147.10 L573.76,146.31 L574.43,145.48 L575.11,144.62 L575.78,143.71 L576.45,142.76 L577.12,141.77 L577.79,140.75 L578.47,139.69 L579.14,138.59 L579.81,137.45 L580.49,136.28 L581.16,135.07 L581.83,133.82 L582.50,132.54 L583.17,131.22 L583.85,129.86 L584.52,128.47 L585.19,127.05 L585.87,125.59 L586.54,124.09 L587.21,122.56 L587.88,121.00 L588.55,119.40 L589.23,117.77 L589.90,116.10" stroke="#ff0a0a" stroke-width="1.05" fill="none" stroke-dasharray="3.3 4.1"/>
<path d="M538.30,90.50 L538.90,94.00 L539.51,97.39 L540.12,100.68 L540.72,103.87 L541.32,106.94 L541.93,109.92 L542.53,112.79 L543.14,115.56 L543.75,118.23 L544.35,120.79 L544.95,123.26 L545.56,125.63 L546.16,127.89 L546.77,130.06 L547.38,132.13 L547.98,134.10 L548.58,135.98 L549.19,137.76 L549.79,139.45 L550.40,141.04 L551.00,142.54 L551.61,143.95 L552.22,145.27 L552.82,146.49 L553.42,147.63 L554.03,148.69 L554.63,149.65 L555.24,150.53 L555.85,151.33 L556.45,152.04 L557.05,152.67 L557.66,153.23 L558.26,153.70 L558.87,154.11 L559.48,154.43 L560.08,154.69 L560.68,154.88 L561.29,155.01 L561.89,155.08 L562.50,155.10 L563.31,155.01 L564.12,154.79 L564.94,154.45 L565.75,154.00 L566.56,153.46 L567.38,152.83 L568.19,152.10 L569.00,151.29 L569.81,150.39 L570.62,149.40 L571.44,148.33 L572.25,147.19 L573.06,145.96 L573.88,144.66 L574.69,143.28 L575.50,141.82 L576.31,140.29 L577.12,138.68 L577.94,137.01 L578.75,135.26 L579.56,133.43 L580.38,131.54 L581.19,129.58 L582.00,127.55 L582.81,125.45 L583.62,123.28 L584.44,121.04 L585.25,118.74 L586.06,116.37 L586.88,113.93 L587.69,111.43 L588.50,108.86 L589.31,106.22 L590.12,103.53 L590.94,100.76 L591.75,97.94 L592.56,95.05 L593.38,92.09 L594.19,89.08 L595.00,86.00" stroke="#ff0a0a" stroke-width="1.05" fill="none"/>
<path d="M585.20,123.40 L586.03,125.13 L586.85,126.80 L587.68,128.43 L588.50,130.00 L589.33,131.52 L590.15,132.99 L590.98,134.41 L591.80,135.78 L592.62,137.09 L593.45,138.36 L594.28,139.58 L595.10,140.75 L595.93,141.86 L596.75,142.93 L597.58,143.96 L598.40,144.93 L599.23,145.86 L600.05,146.74 L600.88,147.57 L601.70,148.36 L602.53,149.10 L603.35,149.79 L604.18,150.44 L605.00,151.05 L605.83,151.61 L606.65,152.13 L607.48,152.61 L608.30,153.04 L609.12,153.44 L609.95,153.79 L610.78,154.10 L611.60,154.38 L612.43,154.61 L613.25,154.81 L614.08,154.97 L614.90,155.10 L615.73,155.19 L616.55,155.26 L617.38,155.29 L618.20,155.30 L618.82,155.28 L619.43,155.24 L620.05,155.18 L620.66,155.10 L621.28,154.99 L621.89,154.88 L622.50,154.74 L623.12,154.59 L623.74,154.42 L624.35,154.24 L624.97,154.04 L625.58,153.82 L626.20,153.59 L626.81,153.35 L627.42,153.09 L628.04,152.82 L628.65,152.54 L629.27,152.24 L629.88,151.92 L630.50,151.60 L631.12,151.26 L631.73,150.90 L632.35,150.54 L632.96,150.16 L633.58,149.76 L634.19,149.36 L634.80,148.94 L635.42,148.51 L636.03,148.07 L636.65,147.61 L637.26,147.15 L637.88,146.67 L638.50,146.18 L639.11,145.67 L639.72,145.16 L640.34,144.63 L640.95,144.09 L641.57,143.54 L642.18,142.97 L642.80,142.40" stroke="#2f9460" stroke-width="1.05" fill="none" stroke-dasharray="3.3 4.1"/>
<path d="M590.20,103.00 L609.00,46.60" stroke="#2f9460" stroke-width="1.05" fill="none"/>
<path d="M559.30,51.00 L559.68,52.80 L560.06,54.54 L560.45,56.23 L560.83,57.87 L561.21,59.45 L561.59,60.98 L561.98,62.46 L562.36,63.88 L562.74,65.25 L563.12,66.57 L563.51,67.84 L563.89,69.05 L564.27,70.22 L564.65,71.33 L565.04,72.39 L565.42,73.41 L565.80,74.37 L566.18,75.29 L566.57,76.16 L566.95,76.97 L567.33,77.75 L567.72,78.47 L568.10,79.15 L568.48,79.78 L568.86,80.36 L569.25,80.90 L569.63,81.40 L570.01,81.85 L570.39,82.26 L570.77,82.63 L571.16,82.95 L571.54,83.24 L571.92,83.48 L572.31,83.69 L572.69,83.86 L573.07,83.99 L573.45,84.09 L573.84,84.15 L574.22,84.19 L574.60,84.20 L575.05,84.16 L575.49,84.05 L575.94,83.88 L576.38,83.67 L576.83,83.40 L577.27,83.10 L577.72,82.74 L578.16,82.35 L578.61,81.91 L579.05,81.43 L579.50,80.91 L579.94,80.35 L580.38,79.76 L580.83,79.12 L581.27,78.45 L581.72,77.74 L582.16,77.00 L582.61,76.22 L583.05,75.40 L583.50,74.55 L583.95,73.67 L584.39,72.75 L584.84,71.79 L585.28,70.80 L585.73,69.78 L586.17,68.73 L586.62,67.64 L587.06,66.52 L587.50,65.37 L587.95,64.18 L588.39,62.96 L588.84,61.71 L589.28,60.43 L589.73,59.12 L590.17,57.78 L590.62,56.40 L591.06,55.00 L591.51,53.56 L591.95,52.10 L592.40,50.60" stroke="#0a0aff" stroke-width="1.05" fill="none" stroke-dasharray="3.3 4.1"/>
<path d="M555.50,57.20 L555.97,58.68 L556.44,60.12 L556.91,61.52 L557.38,62.87 L557.85,64.17 L558.32,65.44 L558.79,66.65 L559.26,67.83 L559.73,68.96 L560.20,70.05 L560.67,71.10 L561.14,72.10 L561.61,73.06 L562.08,73.98 L562.55,74.86 L563.02,75.69 L563.49,76.49 L563.96,77.25 L564.43,77.96 L564.90,78.64 L565.37,79.27 L565.84,79.87 L566.31,80.43 L566.78,80.95 L567.25,81.43 L567.72,81.88 L568.19,82.29 L568.66,82.66 L569.13,83.00 L569.60,83.30 L570.07,83.57 L570.54,83.81 L571.01,84.01 L571.48,84.18 L571.95,84.32 L572.42,84.43 L572.89,84.51 L573.36,84.56 L573.83,84.59 L574.30,84.60 L574.82,84.57 L575.35,84.48 L575.88,84.35 L576.40,84.18 L576.92,83.97 L577.45,83.73 L577.97,83.45 L578.50,83.14 L579.02,82.79 L579.55,82.41 L580.07,82.01 L580.60,81.57 L581.12,81.10 L581.65,80.60 L582.17,80.07 L582.70,79.51 L583.22,78.92 L583.75,78.30 L584.27,77.66 L584.80,76.99 L585.32,76.29 L585.85,75.57 L586.38,74.81 L586.90,74.03 L587.42,73.23 L587.95,72.40 L588.47,71.54 L589.00,70.65 L589.52,69.75 L590.05,68.81 L590.57,67.85 L591.10,66.87 L591.62,65.86 L592.15,64.82 L592.67,63.76 L593.20,62.68 L593.72,61.57 L594.25,60.44 L594.77,59.28 L595.30,58.10" stroke="#0a0aff" stroke-width="1.05" fill="none"/>
</g>
<path d="M514.90,211.75v-2.5M514.90,1.0v2.5M529.15,211.75v-4.5M529.15,1.0v4.5M543.40,211.75v-2.5M543.40,1.0v2.5M557.65,211.75v-4.5M557.65,1.0v4.5M571.90,211.75v-2.5M571.90,1.0v2.5M586.15,211.75v-4.5M586.15,1.0v4.5M600.40,211.75v-2.5M600.40,1.0v2.5M614.65,211.75v-4.5M614.65,1.0v4.5M628.90,211.75v-2.5M628.90,1.0v2.5M643.15,211.75v-4.5M643.15,1.0v4.5M503.5,210.40h4.5M646.3,210.40h-4.5M503.5,201.53h2.5M646.3,201.53h-2.5M503.5,192.66h4.5M646.3,192.66h-4.5M503.5,183.79h2.5M646.3,183.79h-2.5M503.5,174.92h4.5M646.3,174.92h-4.5M503.5,166.05h2.5M646.3,166.05h-2.5M503.5,157.18h4.5M646.3,157.18h-4.5M503.5,148.31h2.5M646.3,148.31h-2.5M503.5,139.44h4.5M646.3,139.44h-4.5M503.5,130.57h2.5M646.3,130.57h-2.5M503.5,121.70h4.5M646.3,121.70h-4.5M503.5,112.83h2.5M646.3,112.83h-2.5M503.5,103.96h4.5M646.3,103.96h-4.5M503.5,95.09h2.5M646.3,95.09h-2.5M503.5,86.22h4.5M646.3,86.22h-4.5M503.5,77.35h2.5M646.3,77.35h-2.5M503.5,68.48h4.5M646.3,68.48h-4.5M503.5,59.61h2.5M646.3,59.61h-2.5M503.5,50.74h4.5M646.3,50.74h-4.5M503.5,41.87h2.5M646.3,41.87h-2.5M503.5,33.00h4.5M646.3,33.00h-4.5M503.5,24.13h2.5M646.3,24.13h-2.5M503.5,15.26h4.5M646.3,15.26h-4.5M503.5,6.39h2.5M646.3,6.39h-2.5" stroke="#222" stroke-width="1" fill="none"/>
<rect x="503.5" y="1.0" width="142.8" height="210.75" fill="none" stroke="#111" stroke-width="1.1"/>
<text x="531.45" y="227" text-anchor="middle">25</text>
<text x="559.95" y="227" text-anchor="middle">30</text>
<text x="588.45" y="227" text-anchor="middle">35</text>
<text x="616.95" y="227" text-anchor="middle">40</text>
<text x="645.45" y="227" text-anchor="middle">45</text>
<text x="514.0" y="19.6" font-size="13.9" style="stroke-width:0.05px">(d)</text>
<text x="39.60" y="214.30" text-anchor="end">0.0</text>
<text x="652.80" y="214.30">0.0</text>
<text x="39.60" y="196.56" text-anchor="end">0. </text>
<path d="M515,0L515,1237L197,1010L197,1180L530,1409L696,1409L696,0Z" transform="translate(33.427,196.560) scale(0.005420,-0.005420)" fill="#000" stroke="#000" stroke-width="27.7"/>
<text x="652.80" y="196.56">0. </text>
<path d="M515,0L515,1237L197,1010L197,1180L530,1409L696,1409L696,0Z" transform="translate(662.057,196.560) scale(0.005420,-0.005420)" fill="#000" stroke="#000" stroke-width="27.7"/>
<text x="39.60" y="178.82" text-anchor="end">0.2</text>
<text x="652.80" y="178.82">0.2</text>
<text x="39.60" y="161.08" text-anchor="end">0.3</text>
<text x="652.80" y="161.08">0.3</text>
<text x="39.60" y="143.34" text-anchor="end">0.4</text>
<text x="652.80" y="143.34">0.4</text>
<text x="39.60" y="125.60" text-anchor="end">0.5</text>
<text x="652.80" y="125.60">0.5</text>
<text x="39.60" y="107.86" text-anchor="end">0.6</text>
<text x="652.80" y="107.86">0.6</text>
<text x="39.60" y="90.12" text-anchor="end">0.7</text>
<text x="652.80" y="90.12">0.7</text>
<text x="39.60" y="72.38" text-anchor="end">0.8</text>
<text x="652.80" y="72.38">0.8</text>
<text x="39.60" y="54.64" text-anchor="end">0.9</text>
<text x="652.80" y="54.64">0.9</text>
<text x="39.60" y="36.90" text-anchor="end"> .0</text>
<path d="M515,0L515,1237L197,1010L197,1180L530,1409L696,1409L696,0Z" transform="translate(24.169,36.900) scale(0.005420,-0.005420)" fill="#000" stroke="#000" stroke-width="27.7"/>
<text x="652.80" y="36.90"> .0</text>
<path d="M515,0L515,1237L197,1010L197,1180L530,1409L696,1409L696,0Z" transform="translate(652.800,36.900) scale(0.005420,-0.005420)" fill="#000" stroke="#000" stroke-width="27.7"/>
<text x="39.60" y="19.16" text-anchor="end"> . </text>
<path d="M515,0L515,1237L197,1010L197,1180L530,1409L696,1409L696,0Z" transform="translate(24.169,19.160) scale(0.005420,-0.005420)" fill="#000" stroke="#000" stroke-width="27.7"/>
<path d="M515,0L515,1237L197,1010L197,1180L530,1409L696,1409L696,0Z" transform="translate(33.427,19.160) scale(0.005420,-0.005420)" fill="#000" stroke="#000" stroke-width="27.7"/>
<text x="652.80" y="19.16"> . </text>
<path d="M515,0L515,1237L197,1010L197,1180L530,1409L696,1409L696,0Z" transform="translate(652.800,19.160) scale(0.005420,-0.005420)" fill="#000" stroke="#000" stroke-width="27.7"/>
<path d="M515,0L515,1237L197,1010L197,1180L530,1409L696,1409L696,0Z" transform="translate(662.057,19.160) scale(0.005420,-0.005420)" fill="#000" stroke="#000" stroke-width="27.7"/>
<text x="138.2" y="169.50" text-anchor="end">ZB</text>
<path d="M143,166.50H175" stroke="#0a0aff" stroke-width="1.05"/>
<text x="138.2" y="180.80" text-anchor="end">WZ</text>
<path d="M143,177.60H175" stroke="#2f9460" stroke-width="1.05"/>
<text x="138.2" y="192.10" text-anchor="end">BN</text>
<path d="M143,188.90H175" stroke="#ff0a0a" stroke-width="1.05"/>
<text x="140.5" y="204.30" text-anchor="end">RS</text>
<path d="M143,200.30H175" stroke="#111" stroke-width="1.05"/>
<text transform="translate(9.9,104.2) rotate(-90)" text-anchor="middle" font-size="11.5">energy (eV)</text>
<text x="304.5" y="245" font-size="11.4">unit cell volume (A<tspan dx="-0.5" dy="-4.9" font-size="9.2">3</tspan><tspan dx="0.3" dy="4.9">)</tspan></text>
</g>
</svg>
</body></html>
